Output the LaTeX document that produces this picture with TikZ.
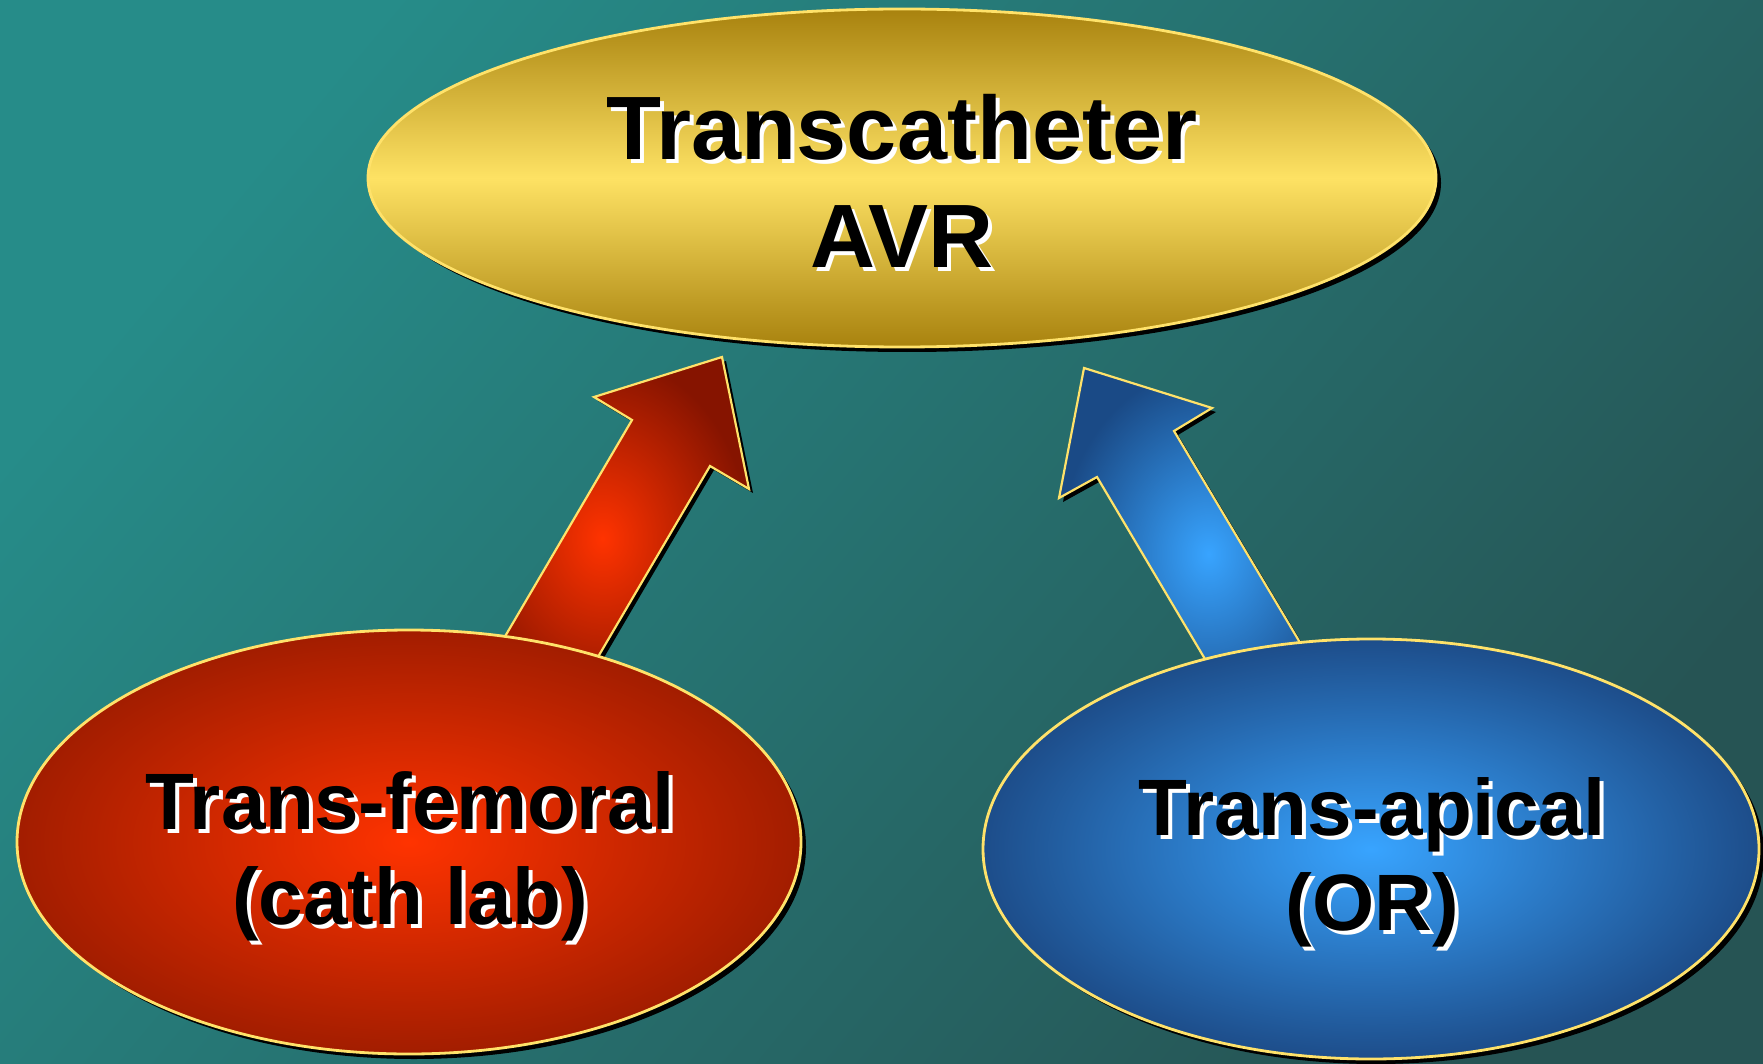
\documentclass[tikz,border=0pt]{standalone}
\usepackage{fontspec}
\setmainfont{Liberation Sans}
\usetikzlibrary{shapes.geometric}
\definecolor{bgA}{HTML}{268C89}
\definecolor{bgB}{HTML}{265454}
\definecolor{edgeY}{HTML}{FFE26A}
\definecolor{goldD}{HTML}{A8820E}
\definecolor{goldL}{HTML}{FEE264}
\definecolor{redC}{HTML}{FF3300}
\definecolor{redE}{HTML}{A21D00}
\definecolor{redD}{HTML}{861400}
\definecolor{bluC}{HTML}{38A4FF}
\definecolor{bluE}{HTML}{1D4D8A}
\definecolor{bluD}{HTML}{1A4A86}
\tikzset{
  oval/.style={ellipse, inner sep=0pt, outer sep=0pt},
  ovalshadow/.style={oval, fill=black},
  rim/.style={draw=edgeY, line width=2.8pt},
  lbl/.style={anchor=base, inner sep=0pt, text=black},
  big/.style={font=\fontsize{90}{108}\selectfont\bfseries},
  mid/.style={font=\fontsize{80}{96}\selectfont\bfseries},
}
\newcommand\shadowtext[5]{%
  \node[lbl, #4, text=white, xshift=4pt, yshift=-4pt] (#1s) at (#2) {#5};%
  \node[lbl, #4] (#1) at (#2) {#5};%
  \ignorespaces#3}
\begin{document}
\begin{tikzpicture}[x=1pt, y=-1pt]
\useasboundingbox (0,0) rectangle (1763,1064);
\shade[top color=bgA, bottom color=bgB, shading angle=50] (0,0) rectangle (1763,1064);

% arrow shadows
\fill[black, shift={(4,4)}] (722,357) -- (749,489) -- (710,466) -- (561,720) -- (456,720) -- (632,420) -- (594,397) -- cycle;
\fill[black, shift={(4,4)}] (1084,368) -- (1212,408) -- (1174,431) -- (1358,740) -- (1253,740) -- (1097,477) -- (1059,498) -- cycle;

% arrows
\shade[inner color=redC, outer color=redD, rim, line width=2.2pt] (722,357) -- (749,489) -- (710,466) -- (561,720) -- (456,720) -- (632,420) -- (594,397) -- cycle;
\shade[inner color=bluC, outer color=bluD, rim, line width=2.2pt] (1084,368) -- (1212,408) -- (1174,431) -- (1358,740) -- (1253,740) -- (1097,477) -- (1059,498) -- cycle;

% ellipse shadows
\node[ovalshadow, minimum width=1068pt, minimum height=338pt] (topsh) at (907,183) {};
\node[ovalshadow, minimum width=784pt, minimum height=424pt] (leftsh) at (414,847) {};
\node[ovalshadow, minimum width=776pt, minimum height=420pt] (rightsh) at (1376,854) {};

% ellipses
\node[oval, rim, top color=goldD, bottom color=goldD, middle color=goldL, minimum width=1068pt, minimum height=338pt] (top) at (902,178) {};
\node[oval, rim, shading=radial, inner color=redC, outer color=redE, minimum width=784pt, minimum height=424pt] (left) at (409,842) {};
\node[oval, rim, shading=radial, inner color=bluC, outer color=bluE, minimum width=776pt, minimum height=420pt] (right) at (1371,849) {};

% texts
\shadowtext{ta}{902,160}{}{big}{Transcatheter}
\shadowtext{tb}{902,268}{}{big}{AVR}
\shadowtext{la}{410,829}{}{mid}{Trans-femoral}
\shadowtext{lb}{410,924}{}{mid}{(cath lab)}
\shadowtext{ra}{1372,835}{}{mid}{Trans-apical}
\shadowtext{rb}{1372,930}{}{mid}{(OR)}
\end{tikzpicture}
\end{document}
